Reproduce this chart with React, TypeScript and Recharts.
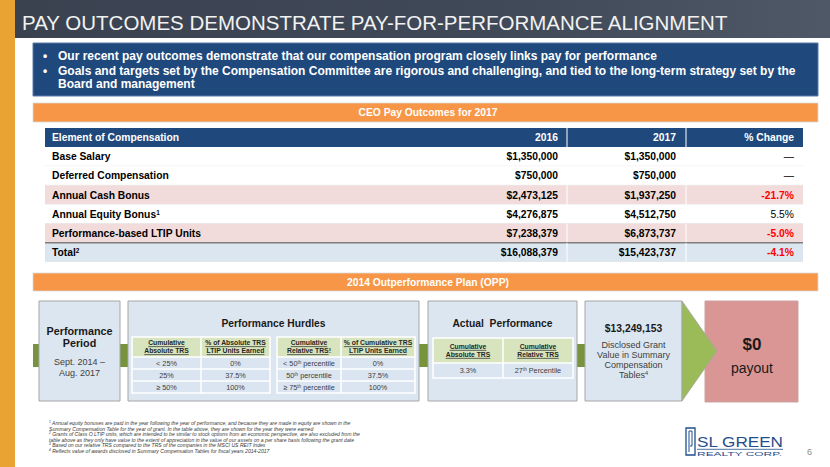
import React from 'react';
import { BarChart, Bar, XAxis, YAxis, Surface, Layer, Rectangle, Polygon } from 'recharts';

const FONT = '"Liberation Sans", Arial, sans-serif';

// CEO pay outcomes table
const payColumns = ['Element of Compensation', '2016', '2017', '% Change'];
const payItems = ['Base Salary', 'Deferred Compensation', 'Annual Cash Bonus', 'Annual Equity Bonus', 'Performance-based LTIP Units', 'Total'];
const payNotes = ['', '', '', '1', '', '2'];
const pay2016 = [1350000, 750000, 2473125, 4276875, 7238379, 16088379];
const pay2017 = [1350000, 750000, 1937250, 4512750, 6873737, 15423737];
const payChange: (number | null)[] = [null, null, -21.7, 5.5, -5.0, -4.1];

// 2014 OPP
const absHead = [['Cumulative', 'Absolute TRS'], ['% of Absolute TRS', 'LTIP Units Earned']];
const absLevels = ['< 25%', '25%', '≥ 50%'];
const absEarned = ['0%', '37.5%', '100%'];
const relHead = [['Cumulative', 'Relative TRS{3}'], ['% of Cumulative TRS', 'LTIP Units Earned']];
const relLevels = ['< 50{th} percentile', '50{th} percentile', '≥ 75{th} percentile'];
const relEarned = ['0%', '37.5%', '100%'];
const actualHead = [['Cumulative', 'Absolute TRS'], ['Cumulative', 'Relative TRS']];
const actualValues = ['3.3%', '27{th} Percentile'];
const grantValue = 13249153;
const payoutValue = 0;

const bullets = [
  ['Our recent pay outcomes demonstrate that our compensation program closely links pay for performance'],
  ['Goals and targets set by the Compensation Committee are rigorous and challenging, and tied to the long-term strategy set by the', 'Board and management'],
];

const footnotes = [
  '{1} Annual equity bonuses are paid in the year following the year of performance, and because they are made in equity are shown in the',
  'Summary Compensation Table for the year of grant. In the table above, they are shown for the year they were earned',
  '{2} Grants of Class O LTIP units, which are intended to be similar to stock options from an economic perspective, are also excluded from the',
  'table above as they only have value to the extent of appreciation in the value of our assets on a per share basis following the grant date',
  '{3} Based on our relative TRS compared to the TRS of the companies in the MSCI US REIT Index',
  '{4} Reflects value of awards disclosed in Summary Compensation Tables for fiscal years 2014-2017',
];

// row fills: header, then each pay item
const PAY_ROW_FILL = ['#1F497D', '#FFFFFF', '#FFFFFF', '#F2DCDB', '#FFFFFF', '#F2DCDB', '#DCE6F1'];

const money = (v: number) => '$' + v.toLocaleString('en-US');

const payRows = [
  { row: 0, band: 1, label: payColumns[0], a: payColumns[1], b: payColumns[2], c: payColumns[3], neg: false },
  ...payItems.map((item, i) => ({
    row: i + 1,
    band: 1,
    label: item + (payNotes[i] ? `{${payNotes[i]}}` : ''),
    a: money(pay2016[i]),
    b: money(pay2017[i]),
    c: payChange[i] === null ? '—' : `${(payChange[i] as number).toFixed(1)}%`,
    neg: (payChange[i] ?? 0) < 0,
  })),
];

// "{x}" marks a superscript
function rich(s: string) {
  return s.split(/(\{[^}]*\})/).filter(Boolean).map((p, i) =>
    p.startsWith('{') ? (
      <tspan key={i} baselineShift="super" fontSize="62%">{p.slice(1, -1)}</tspan>
    ) : (
      <tspan key={i}>{p}</tspan>
    )
  );
}

function T({ x, y, size, children, anchor = 'start', weight = 'normal', fill = '#000', italic = false, underline = false, textLength }: any) {
  return (
    <text
      x={x}
      y={y}
      fontSize={size}
      fontFamily={FONT}
      fontWeight={weight}
      fontStyle={italic ? 'italic' : 'normal'}
      textAnchor={anchor}
      fill={fill}
      textDecoration={underline ? 'underline' : undefined}
      textLength={textLength}
      lengthAdjust={textLength ? 'spacingAndGlyphs' : undefined}
    >
      {rich(String(children))}
    </text>
  );
}

const renderPayRow = (props: any) => {
  const { x, y, width, height, payload } = props;
  const r = payload.row;
  const head = r === 0;
  const base = y + height / 2 + 3.7;
  const color = head ? '#FFFFFF' : '#000000';
  return (
    <g>
      <rect x={x} y={y} width={width} height={height} fill={PAY_ROW_FILL[r]} />
      {!head && <line x1={x} x2={x + width} y1={y + height} y2={y + height} stroke="#E4E4E4" strokeWidth={0.8} />}
      {r === 6 && <line x1={x} x2={x + width} y1={y} y2={y} stroke="#7F7F7F" strokeWidth={1.5} />}
      <line x1={x + 522} x2={x + 522} y1={y} y2={y + height} stroke="#FFFFFF" strokeWidth={1} />
      <line x1={x + 641} x2={x + 641} y1={y} y2={y + height} stroke="#FFFFFF" strokeWidth={1} />
      <T x={x + 7} y={base} size={10.3} weight="bold" fill={color}>{payload.label}</T>
      <T x={x + 513} y={base} size={10.3} weight="bold" fill={color} anchor="end">{payload.a}</T>
      <T x={x + 631} y={base} size={10.3} weight="bold" fill={color} anchor="end">{payload.b}</T>
      <T x={x + 749} y={base} size={10.3} weight={head || payload.neg || r === 6 ? 'bold' : 'normal'} fill={head ? '#FFFFFF' : payload.neg ? '#FF0000' : '#000000'} anchor="end">{payload.c}</T>
    </g>
  );
};

function MiniTable({ x, y, widths, headH, rowH, head, rows }: any) {
  const total = widths.reduce((s: number, w: number) => s + w, 0);
  const xs = widths.map((_: number, i: number) => x + widths.slice(0, i).reduce((s: number, w: number) => s + w, 0));
  const bottom = y + headH + rows.length * rowH;
  return (
    <Layer>
      <Rectangle x={x} y={y} width={total} height={headH} fill="#D7E4BD" />
      <Rectangle x={x} y={y + headH} width={total} height={rows.length * rowH} fill="#DBE5F1" />
      {xs.slice(1).map((cx: number, i: number) => (
        <line key={i} x1={cx} x2={cx} y1={y} y2={bottom} stroke="#FFFFFF" strokeWidth={1.5} />
      ))}
      {rows.map((_: any, ri: number) => (
        <line key={ri} x1={x} x2={x + total} y1={y + headH + ri * rowH} y2={y + headH + ri * rowH} stroke="#FFFFFF" strokeWidth={1.5} />
      ))}
      <rect x={x} y={y} width={total} height={bottom - y} fill="none" stroke="#FFFFFF" strokeWidth={1.5} />
      {head.map((lines: string[], ci: number) =>
        lines.map((ln, li) => (
          <T key={`${ci}-${li}`} x={xs[ci] + widths[ci] / 2} y={y + headH / 2 - 1.6 + li * 8} size={6.8} weight="bold" anchor="middle" fill="#262626" underline>
            {ln}
          </T>
        ))
      )}
      {rows.map((cells: string[], ri: number) =>
        cells.map((c, ci) => (
          <T key={`${ri}-${ci}`} x={xs[ci] + widths[ci] / 2} y={y + headH + ri * rowH + rowH / 2 + 2.7} size={7.3} anchor="middle" fill="#404040">
            {c}
          </T>
        ))
      )}
    </Layer>
  );
}

const BOX = '#DCE6F1';
const BOX_LINE = '#A6A6A6';
const CONNECT = '#77933C';

export default function App() {
  return (
    <div style={{ position: 'absolute', left: 0, top: 0, width: 830, height: 467, background: '#FFFFFF', overflow: 'hidden' }}>
      <Surface width={830} height={467} style={{ position: 'absolute', left: 0, top: 0 }}>
        <defs>
          <linearGradient id="hdr" x1="0" y1="0" x2="1" y2="0">
            <stop offset="0" stopColor="#3A4250" />
            <stop offset="0.6" stopColor="#404958" />
            <stop offset="1" stopColor="#4E5867" />
          </linearGradient>
        </defs>
        <Rectangle x={0} y={0} width={15} height={467} fill="#E9A333" />
        <Rectangle x={15} y={0} width={815} height={38} fill="url(#hdr)" />
        <T x={22} y={30} size={20.5} fill="#F2F2F2">PAY OUTCOMES DEMONSTRATE PAY-FOR-PERFORMANCE ALIGNMENT</T>

        <Rectangle x={33} y={43} width={785} height={53} fill="#1F497D" stroke="#5B7BA8" strokeWidth={1} />
        {[60.3, 75.3].map((by, i) => (
          <Layer key={i}>
            <T x={43} y={by} size={12} weight="bold" fill="#FFFFFF">•</T>
            {bullets[i].map((ln, li) => (
              <T key={li} x={58} y={by + li * 13} size={12} weight="bold" fill="#FFFFFF">{ln}</T>
            ))}
          </Layer>
        ))}

        <Rectangle x={33} y={103} width={785} height={19} fill="#F79646" stroke="#D9D9D9" strokeWidth={0.8} />
        <T x={428} y={116.2} size={10.3} weight="bold" anchor="middle" fill="#FFFFFF">CEO Pay Outcomes for 2017</T>

        <Rectangle x={33} y={273} width={785} height={18} fill="#F79646" stroke="#D9D9D9" strokeWidth={0.8} />
        <T x={428} y={285.7} size={10.3} weight="bold" anchor="middle" fill="#FFFFFF">2014 Outperformance Plan (OPP)</T>

        {[33, 120, 419, 577].map((cx, i) => (
          <Rectangle key={i} x={cx} y={344} width={i === 0 ? 6 : i === 2 ? 9 : 8} height={23} fill={CONNECT} />
        ))}

        {/* Performance period */}
        <Rectangle x={39} y={301} width={81} height={100} fill={BOX} stroke={BOX_LINE} strokeWidth={1} />
        <T x={79.5} y={335} size={10.8} weight="bold" anchor="middle" fill="#1A1A1A">Performance</T>
        <T x={79.5} y={347} size={10.8} weight="bold" anchor="middle" fill="#1A1A1A">Period</T>
        <T x={79.5} y={365} size={9} anchor="middle" fill="#404040">Sept. 2014 –</T>
        <T x={79.5} y={376} size={9} anchor="middle" fill="#404040">Aug. 2017</T>

        {/* Hurdles */}
        <Rectangle x={128} y={301} width={291} height={100} fill={BOX} stroke={BOX_LINE} strokeWidth={1} />
        <T x={273.5} y={327} size={10.3} weight="bold" anchor="middle" fill="#1A1A1A">Performance Hurdles</T>
        <MiniTable x={132} y={337} widths={[69, 69]} headH={20} rowH={12} head={absHead} rows={absLevels.map((l, i) => [l, absEarned[i]])} />
        <MiniTable x={277} y={337} widths={[64, 74]} headH={20} rowH={12} head={relHead} rows={relLevels.map((l, i) => [l, relEarned[i]])} />

        {/* Actual performance */}
        <Rectangle x={428} y={301} width={149} height={100} fill={BOX} stroke={BOX_LINE} strokeWidth={1} />
        <T x={502.5} y={327} size={10.3} weight="bold" anchor="middle" fill="#1A1A1A">{'Actual\u00a0 Performance'}</T>
        <MiniTable x={433} y={338} widths={[70, 70]} headH={25} rowH={15} head={actualHead} rows={[actualValues]} />

        {/* Grant value */}
        <Rectangle x={585} y={301} width={97} height={100} fill={BOX} stroke={BOX_LINE} strokeWidth={1} />
        <T x={633.5} y={332} size={10.3} weight="bold" anchor="middle" fill="#1A1A1A">{money(grantValue)}</T>
        {['Disclosed Grant', 'Value in Summary', 'Compensation', 'Tables{4}'].map((ln, i) => (
          <T key={i} x={633.5} y={348 + i * 10} size={9} anchor="middle" fill="#404040">{ln}</T>
        ))}

        {/* Payout */}
        <Rectangle x={705} y={301} width={93} height={101} fill="#D99694" stroke="#C9A3A1" strokeWidth={1} />
        <Polygon points={[{ x: 682, y: 301 }, { x: 717, y: 351 }, { x: 682, y: 401 }]} fill="#9BBB59" stroke="#A6A6A6" strokeWidth={0.8} />
        <T x={752} y={350} size={17} weight="bold" anchor="middle" fill="#1A1A1A">{'$' + payoutValue}</T>
        <T x={752} y={373} size={14} anchor="middle" fill="#1A1A1A">payout</T>

        {footnotes.map((ln, i) => (
          <T key={i} x={49} y={425 + i * 5.5} size={5.1} italic fill="#3A3A3A">{ln}</T>
        ))}

        {/* logo */}
        <path d="M686,428 h9 v27 h-9 z" fill="none" stroke="#1F4E8C" strokeWidth={1.3} />
        <path d="M689,431 v21 M689,431 h3 v15 h-2" fill="none" stroke="#1F4E8C" strokeWidth={1} />
        <T x={697} y={447} size={15} fill="#1F4E8C" textLength={86}>SL GREEN</T>
        <line x1={697} x2={783} y1={449.3} y2={449.3} stroke="#1F4E8C" strokeWidth={0.8} />
        <T x={697} y={455.5} size={5.5} fill="#1F4E8C" textLength={85}>REALTY CORP.</T>
        <T x={807} y={455} size={9} fill="#8C8C8C">6</T>
      </Surface>

      <div style={{ position: 'absolute', left: 45, top: 128 }}>
        <BarChart width={758} height={134} data={payRows} layout="vertical" margin={{ top: 0, right: 0, bottom: 0, left: 0 }} barCategoryGap={0}>
          <XAxis type="number" domain={[0, 1]} hide />
          <YAxis type="category" dataKey="row" hide />
          <Bar dataKey="band" isAnimationActive={false} shape={renderPayRow} />
        </BarChart>
      </div>
    </div>
  );
}
